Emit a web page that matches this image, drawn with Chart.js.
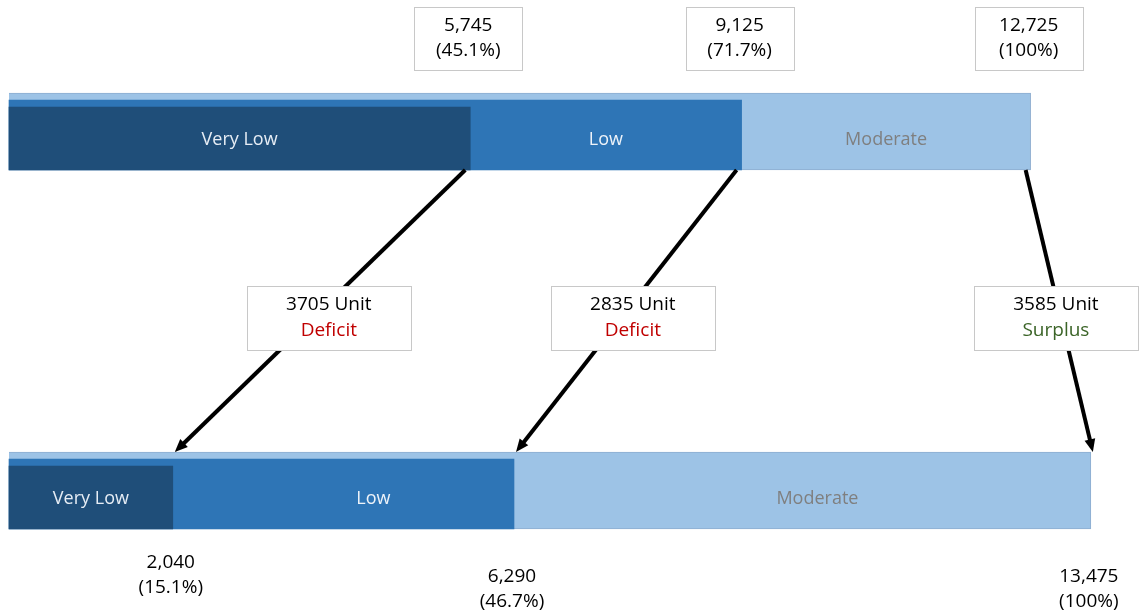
<!DOCTYPE html>
<html>
<head>
<meta charset="utf-8">
<script src="https://cdn.jsdelivr.net/npm/chart.js@4.4.1/dist/chart.umd.min.js"></script>
<style>
  html, body { margin: 0; padding: 0; background: #fff; }
  #wrap { width: 1139px; height: 616px; position: relative; }
</style>
</head>
<body>
<div id="wrap"><canvas id="chart"></canvas></div>
<script>
// =========================
// Data
// =========================
const rows = ["Top", "Bottom"];
const veryLow  = [5745, 2040];
const low      = [9125, 6290];
const moderate = [12725, 13475];

const veryLowPct  = ["45.1%", "15.1%"];
const lowPct      = ["71.7%", "46.7%"];
const moderatePct = ["100%", "100%"];

const gapUnits = [3705, 2835, 3585];
const gapTypes = ["Deficit", "Deficit", "Surplus"];

const FONT = "'Open Sans', sans-serif";
const THICK = 77;

// =========================
// Helpers
// =========================
function fmt(n) { return n.toLocaleString("en-US"); }

function drawBox(ctx, cx, cy, w, h) {
    ctx.save();
    ctx.fillStyle = "#fff";
    ctx.strokeStyle = "#c8c8c8";
    ctx.lineWidth = 1;
    ctx.fillRect(cx - w/2, cy - h/2, w, h);
    ctx.strokeRect(Math.round(cx - w/2) + 0.5, Math.round(cy - h/2) + 0.5, w, h);
    ctx.restore();
}

function drawArrow(ctx, x1, y1, x2, y2) {
    const ang = Math.atan2(y2 - y1, x2 - x1);
    const head = 14;
    ctx.save();
    ctx.strokeStyle = "#000";
    ctx.fillStyle = "#000";
    ctx.lineWidth = 4;
    ctx.beginPath();
    ctx.moveTo(x1, y1);
    ctx.lineTo(x2 - Math.cos(ang) * head * 0.8, y2 - Math.sin(ang) * head * 0.8);
    ctx.stroke();
    ctx.beginPath();
    ctx.moveTo(x2, y2);
    ctx.lineTo(x2 - head * Math.cos(ang - 0.4), y2 - head * Math.sin(ang - 0.4));
    ctx.lineTo(x2 - head * Math.cos(ang + 0.4), y2 - head * Math.sin(ang + 0.4));
    ctx.closePath();
    ctx.fill();
    ctx.restore();
}

function twoLines(ctx, a, b, x, y, gap, colA, colB, size) {
    ctx.save();
    ctx.textAlign = "center";
    ctx.textBaseline = "middle";
    ctx.font = size + "px " + FONT;
    ctx.fillStyle = colA;
    ctx.fillText(a, x, y - gap/2);
    ctx.fillStyle = colB;
    ctx.fillText(b, x, y + gap/2);
    ctx.restore();
}

// =========================
// Plugins
// =========================
const alignBottom = {
    id: "alignBottom",
    afterDatasetsUpdate(chart) {
        chart.data.datasets.forEach((ds, i) => {
            chart.getDatasetMeta(i).data.forEach(el => {
                el.y += (THICK - el.height) / 2;
            });
        });
    }
};

const overlay = {
    id: "overlay",
    afterDraw(chart) {
        const ctx = chart.ctx;
        const xs = chart.scales.x;
        const metas = [0, 1, 2].map(i => chart.getDatasetMeta(i).data);
        const names = ["Very Low", "Low", "Moderate"];
        const txtCol = ["#e6edf5", "#eef3f9", "#7f7f7f"];
        const shift = [[0, 0, 0], [0, 30, 15]];

        // segment labels
        ctx.save();
        ctx.font = "18px " + FONT;
        ctx.textAlign = "center";
        ctx.textBaseline = "middle";
        for (let r = 0; r < rows.length; r++) {
            const ends = [veryLow[r], low[r], moderate[r]];
            const base = metas[2][r].y + metas[2][r].height / 2;
            for (let d = 0; d < 3; d++) {
                const start = d === 0 ? 0 : ends[d-1];
                const cx = (xs.getPixelForValue(start) + xs.getPixelForValue(ends[d])) / 2;
                ctx.fillStyle = txtCol[d];
                ctx.fillText(names[d], cx + shift[r][d], base - 30);
            }
        }
        ctx.restore();

        // arrows between the bars
        const topBottom = metas[2][0].y + metas[2][0].height / 2;
        const botTop = metas[2][1].y - metas[2][1].height / 2;
        const pairs = [
            [veryLow[0], veryLow[1]],
            [low[0], low[1]],
            [moderate[0], moderate[1]]
        ];
        const midY = 318;
        pairs.forEach((p, i) => {
            const x1 = xs.getPixelForValue(p[0]) - 5;
            const x2 = xs.getPixelForValue(p[1]) + 2;
            drawArrow(ctx, x1, topBottom, x2, botTop);
            const t = (midY - topBottom) / (botTop - topBottom);
            const bx = x1 + (x2 - x1) * t + [16, 12, -5][i];
            drawBox(ctx, bx, midY, 164, 64);
            const col = gapTypes[i] === "Deficit" ? "#c00000" : "#3b6427";
            twoLines(ctx, gapUnits[i] + " Unit", gapTypes[i], bx, midY, 26, "#000", col, 19);
        });

        // top value boxes
        const topVals = [veryLow[0], low[0], moderate[0]];
        const topPct = [veryLowPct[0], lowPct[0], moderatePct[0]];
        topVals.forEach((v, i) => {
            const cx = xs.getPixelForValue(v) - 2;
            drawBox(ctx, cx, 38.5, 108, 63);
            twoLines(ctx, fmt(v), "(" + topPct[i] + ")", cx, 38.5, 25, "#000", "#000", 19);
        });

        // bottom value labels
        const botVals = [veryLow[1], low[1], moderate[1]];
        const botPct = [veryLowPct[1], lowPct[1], moderatePct[1]];
        const botY = [575, 589, 589];
        botVals.forEach((v, i) => {
            const cx = xs.getPixelForValue(v) - 2;
            twoLines(ctx, fmt(v), "(" + botPct[i] + ")", cx, botY[i], 25, "#000", "#000", 19);
        });
    }
};

// =========================
// Chart
// =========================
new Chart(document.getElementById("chart"), {
    type: "bar",
    data: {
        labels: rows,
        datasets: [
            { label: "Very Low", data: veryLow, backgroundColor: "#1f4e79",
              borderColor: "#2a5784", borderWidth: 0, barThickness: 63 },
            { label: "Low", data: low, backgroundColor: "#2e75b6",
              borderWidth: 0, barThickness: 70 },
            { label: "Moderate", data: moderate, backgroundColor: "#9dc3e6",
              borderColor: "#8eaed0", borderWidth: 1, barThickness: THICK }
        ]
    },
    options: {
        indexAxis: "y",
        responsive: true,
        maintainAspectRatio: false,
        animation: false,
        grouped: false,
        clip: false,
        layout: { padding: { left: 9, right: 6, top: 131.5, bottom: 125.5 } },
        plugins: {
            legend: { display: false },
            tooltip: { enabled: false }
        },
        scales: {
            x: { display: false, min: 0, max: 14000 },
            y: { display: false, offset: false }
        }
    },
    plugins: [alignBottom, overlay]
});
</script>
</body>
</html>
